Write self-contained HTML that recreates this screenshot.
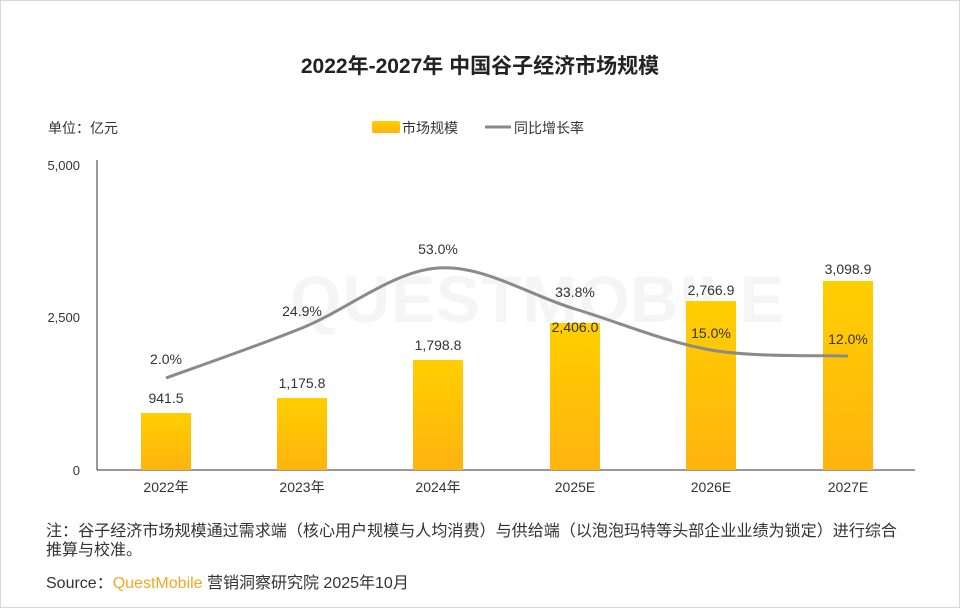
<!DOCTYPE html>
<html><head><meta charset="utf-8"><style>
html,body{margin:0;padding:0;background:#fff;}
svg{display:block;font-family:"Liberation Sans","Noto Sans CJK SC",sans-serif;}
</style></head><body>
<svg width="960" height="608" viewBox="0 0 960 608">
<defs><linearGradient id="g" x1="0" y1="0" x2="0" y2="1"><stop offset="0" stop-color="#ffcf00"/><stop offset="1" stop-color="#ffb30f"/></linearGradient></defs>
<rect x="0.5" y="0.5" width="959" height="607" fill="#fff" stroke="#d8d8d8"/>
<text x="480" y="73" font-size="21" font-weight="bold" text-anchor="middle" fill="#222">2022年-2027年 中国谷子经济市场规模</text>
<text x="48" y="133" font-size="14" fill="#333">单位：亿元</text>
<rect x="372" y="121" width="28" height="12" rx="2" fill="url(#g)"/>
<text x="402" y="133" font-size="14" fill="#333">市场规模</text>
<line x1="485" y1="127" x2="511" y2="127" stroke="#888" stroke-width="3"/>
<text x="514" y="133" font-size="14" fill="#333">同比增长率</text>
<text x="290" y="322" font-size="66" fill="#f5f5f5" font-weight="bold" letter-spacing="1">QUESTMOBILE</text>
<g font-size="13" fill="#333" text-anchor="end">
<text x="80" y="170">5,000</text><text x="80" y="322">2,500</text><text x="80" y="475">0</text></g>
<line x1="97" y1="160" x2="97" y2="470" stroke="#333"/>
<line x1="97" y1="470" x2="915" y2="470" stroke="#333"/>
<g fill="url(#g)">
<rect x="141" y="413" width="50" height="57"/>
<rect x="277" y="398" width="50" height="72"/>
<rect x="413" y="360" width="50" height="110"/>
<rect x="550" y="323" width="50" height="147"/>
<rect x="686" y="301" width="50" height="169"/>
<rect x="823" y="281" width="50" height="189"/>
</g>
<g font-size="14" fill="#333" text-anchor="middle">
<text x="166" y="403">941.5</text><text x="302" y="388">1,175.8</text><text x="438" y="350">1,798.8</text>
<text x="575" y="332">2,406.0</text><text x="711" y="295">2,766.9</text><text x="848" y="274">3,098.9</text>
<text x="166" y="364">2.0%</text><text x="302" y="316">24.9%</text><text x="438" y="254">53.0%</text>
<text x="575" y="297">33.8%</text><text x="711" y="338">15.0%</text><text x="848" y="344">12.0%</text>
</g>
<path d="M166,378 C188.7,369.7 256.7,346.3 302,328 C347.3,309.7 392.5,271.2 438,268 C483.5,264.8 529.5,295.3 575,309 C620.5,322.7 665.5,342.2 711,350 C756.5,357.8 825.2,355 848,356" fill="none" stroke="#8a8a8a" stroke-width="3"/>
<g font-size="14" fill="#333" text-anchor="middle">
<text x="166" y="492">2022年</text><text x="302" y="492">2023年</text><text x="438" y="492">2024年</text>
<text x="575" y="492">2025E</text><text x="711" y="492">2026E</text><text x="848" y="492">2027E</text></g>
<text x="46" y="536" font-size="16" fill="#333" textLength="851" lengthAdjust="spacingAndGlyphs">注：谷子经济市场规模通过需求端（核心用户规模与人均消费）与供给端（以泡泡玛特等头部企业业绩为锁定）进行综合</text>
<text x="46" y="555" font-size="16" fill="#333">推算与校准。</text>
<text x="46" y="588" font-size="16" fill="#333">Source：<tspan fill="#f5a623">QuestMobile</tspan> 营销洞察研究院 2025年10月</text>
</svg>
</body></html>
